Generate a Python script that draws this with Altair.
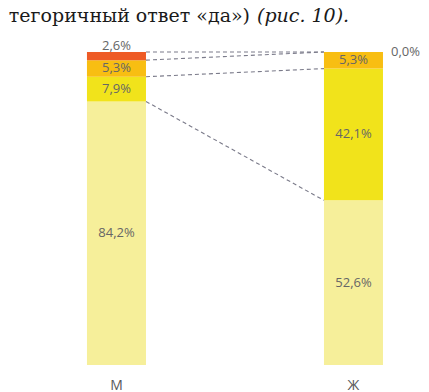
import altair as alt
import pandas as pd

categories = ["М", "Ж"]
series = ["s1", "s2", "s3", "s4"]  # bottom to top
m_values = [84.2, 7.9, 5.3, 2.6]
f_values = [52.6, 42.1, 5.3, 0.0]
colors = ["#F6EF9A", "#F1E31B", "#F8BE12", "#EE5B26"]
title_plain = "тегоричный ответ «да»)"
title_italic = "(рис. 10)."

rows = []
tops = {}
for cat, vals in zip(categories, [m_values, f_values]):
    cum = 0.0
    tops[cat] = []
    for i, (s, v) in enumerate(zip(series, vals)):
        rows.append(dict(cat=cat, series=s, order=i, value=v, y0=cum, y1=cum + v,
                         mid=cum + v / 2, label=f"{v:.1f}".replace(".", ",") + "%"))
        cum += v
        tops[cat].append(cum)
df = pd.DataFrame(rows)
conn = pd.DataFrame({"a": categories[0], "b": categories[1],
                     "ya": tops[categories[0]], "yb": tops[categories[1]]})

xscale = alt.Scale(domain=categories, paddingInner=0.751, paddingOuter=0.2468, align=0.675)
yscale = alt.Scale(domain=[0, 100], nice=False)

base = alt.Chart(df)
bars = base.mark_bar().encode(
    x=alt.X("cat:N", scale=xscale, axis=alt.Axis(title=None, ticks=False, domain=False, labelAngle=0,
                                                  tickSize=0, labelPadding=13, labelFont="Open Sans",
                                                  labelFontSize=14, labelColor="#595959")),
    y=alt.Y("y0:Q", scale=yscale, axis=None),
    y2="y1:Q",
    color=alt.Color("series:N", scale=alt.Scale(domain=series, range=colors), legend=None),
)

rules = alt.Chart(conn).mark_rule(strokeDash=[4, 3], color="#7b7b8a", strokeWidth=1.1).encode(
    x=alt.X("a:N", bandPosition=1, scale=xscale),
    x2=alt.X2("b", bandPosition=0),
    y=alt.Y("ya:Q", scale=yscale),
    y2="yb:Q",
)

tstyle = dict(font="Open Sans", fontSize=13, color="#666666")
center_lbl = base.transform_filter("datum.value >= 4").mark_text(baseline="middle", **tstyle).encode(
    x=alt.X("cat:N", scale=xscale), y=alt.Y("mid:Q", scale=yscale), text="label:N")
above_lbl = base.transform_filter("datum.value > 0 && datum.value < 4").mark_text(
    baseline="alphabetic", dy=-2, **tstyle).encode(
    x=alt.X("cat:N", scale=xscale), y=alt.Y("y1:Q", scale=yscale), text="label:N")
right_lbl = base.transform_filter("datum.value == 0").mark_text(
    baseline="middle", align="left", dx=8, **tstyle).encode(
    x=alt.X("cat:N", scale=xscale, bandPosition=1), y=alt.Y("y1:Q", scale=yscale), text="label:N")

t1 = alt.Chart(pd.DataFrame({"t": [title_plain]})).mark_text(
    align="right", baseline="alphabetic", font="DejaVu Serif", fontSize=19, color="#1a1a1a").encode(
    x=alt.value(242), y=alt.value(-30), text="t:N")
t2 = alt.Chart(pd.DataFrame({"t": [title_italic]})).mark_text(
    align="left", baseline="alphabetic", font="DejaVu Serif", fontSize=19, fontStyle="italic",
    color="#1a1a1a").encode(x=alt.value(249), y=alt.value(-30), text="t:N")

chart = alt.layer(bars, rules, center_lbl, above_lbl, right_lbl, t1, t2).properties(
    width=413, height=313,
    padding={"left": 0, "top": 44, "right": 0, "bottom": 27},
    autosize=alt.AutoSizeParams(type="none"),
).configure_view(stroke=None)

chart.save("out.html", embed_options={"renderer": "svg", "actions": False})
